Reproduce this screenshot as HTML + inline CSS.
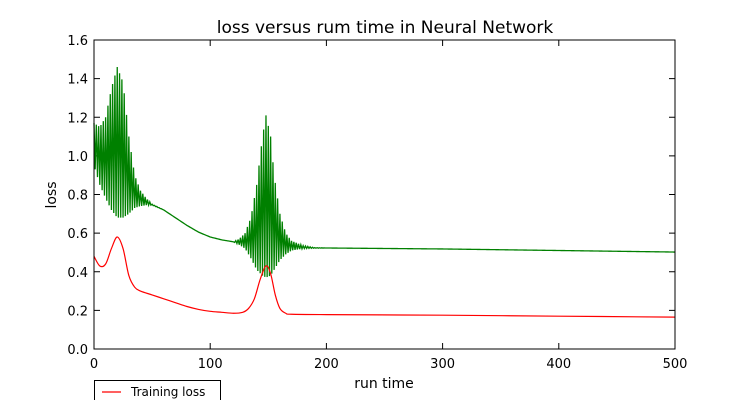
<!DOCTYPE html>
<html><head><meta charset="utf-8"><style>
body{margin:0;background:#fff;}
svg text{font-family:"DejaVu Sans","Liberation Sans",sans-serif;fill:#000;}
</style></head><body>
<svg id="chart" width="750" height="400" viewBox="0 0 750 400" xmlns="http://www.w3.org/2000/svg">
<rect width="750" height="400" fill="#fff"/>
<text x="385" y="33" font-size="17" text-anchor="middle">loss versus rum time in Neural Network</text>
<g id="ticks"></g>
<g id="series"></g>
<rect x="94" y="40" width="581" height="309" fill="none" stroke="#000" stroke-width="1"/>
<text x="384" y="388" font-size="14" text-anchor="middle">run time</text>
<text x="56" y="195" font-size="14" text-anchor="middle" transform="rotate(-90 56 195)">loss</text>
<g>
<rect x="94.5" y="380.5" width="126" height="30" fill="#fff" stroke="#000"/>
<line x1="102" y1="392" x2="121" y2="392" stroke="red" stroke-width="1.3"/>
<text x="131" y="396" font-size="12">Training loss</text>
</g>
</svg>
<script>
const xTicks=[0,100,200,300,400,500];
const yTicks=[0.0,0.2,0.4,0.6,0.8,1.0,1.2,1.4,1.6];
const greenX=[0,5,10,15,20,25,30,35,40,45,50,60,70,80,90,100,110,120,125,130,135,140,145,148,152,155,160,165,170,180,190,200,300,400,500];
const greenUpper=[1.17,1.15,1.2,1.35,1.46,1.38,1.1,0.9,0.82,0.78,0.75,0.72,0.68,0.64,0.605,0.58,0.565,0.555,0.57,0.6,0.68,0.85,1.1,1.21,1.1,0.9,0.7,0.6,0.56,0.535,0.525,0.523,0.518,0.51,0.502];
const greenLower=[0.95,0.85,0.78,0.72,0.68,0.68,0.7,0.73,0.74,0.745,0.745,0.72,0.68,0.64,0.605,0.58,0.565,0.555,0.54,0.52,0.47,0.41,0.38,0.37,0.38,0.41,0.46,0.49,0.51,0.52,0.522,0.523,0.518,0.51,0.502];
const redX=[0,5,10,15,20,25,30,35,40,50,60,70,80,90,100,110,120,128,133,138,143,148,152,156,160,165,170,200,300,400,500];
const redY=[0.48,0.43,0.44,0.52,0.58,0.52,0.38,0.32,0.3,0.28,0.26,0.24,0.22,0.205,0.195,0.19,0.185,0.19,0.21,0.26,0.36,0.43,0.39,0.28,0.21,0.185,0.18,0.178,0.175,0.17,0.165];
const sx=v=>94+v*581/500;
const sy=v=>349-v*309/1.6;
const NS="http://www.w3.org/2000/svg";
const tg=document.getElementById('ticks'), sg=document.getElementById('series');
function mk(tag,attrs,parent){const e=document.createElementNS(NS,tag);for(const k in attrs)e.setAttribute(k,attrs[k]);parent.appendChild(e);return e;}
xTicks.forEach(t=>{const x=sx(t);
 const a=mk('line',{x1:x,y1:349,x2:x,y2:343,stroke:'#000'},tg);
 
 
 mk('line',{x1:x,y1:40,x2:x,y2:46,stroke:'#000'},tg);
 const l=mk('text',{x:x,y:368,'font-size':13,'text-anchor':'middle'},tg);l.textContent=t;
 
 
});
yTicks.forEach(t=>{const y=sy(t);
 const a=mk('line',{x1:94,y1:y,x2:100,y2:y,stroke:'#000'},tg);
 
 
 mk('line',{x1:675,y1:y,x2:669,y2:y,stroke:'#000'},tg);
 const l=mk('text',{x:88,y:y+5,'font-size':13,'text-anchor':'end'},tg);l.textContent=t.toFixed(1);
 
 
});
function interp(xs,ys,x){for(let i=1;i<xs.length;i++){if(x<=xs[i]){const f=(x-xs[i-1])/(xs[i]-xs[i-1]);return ys[i-1]+f*(ys[i]-ys[i-1]);}}return ys[ys.length-1];}
function smoothPath(xs,ys){let d='M'+sx(xs[0])+','+sy(ys[0]);
 for(let i=0;i<xs.length-1;i++){
  const p0=[sx(xs[Math.max(0,i-1)]),sy(ys[Math.max(0,i-1)])],p1=[sx(xs[i]),sy(ys[i])],p2=[sx(xs[i+1]),sy(ys[i+1])],p3=[sx(xs[Math.min(xs.length-1,i+2)]),sy(ys[Math.min(xs.length-1,i+2)])];
  const c1=[p1[0]+(p2[0]-p0[0])/6,p1[1]+(p2[1]-p0[1])/6],c2=[p2[0]-(p3[0]-p1[0])/6,p2[1]-(p3[1]-p1[1])/6];
  d+=' C'+c1[0].toFixed(2)+','+c1[1].toFixed(2)+' '+c2[0].toFixed(2)+','+c2[1].toFixed(2)+' '+p2[0].toFixed(2)+','+p2[1].toFixed(2);}
 return d;}
let gp=[];
for(let x=0;x<=500;x+=1){const v=(x%2===0)?interp(greenX,greenUpper,x):interp(greenX,greenLower,x);gp.push(sx(x).toFixed(2)+','+sy(v).toFixed(2));}
const g=mk('polyline',{points:gp.join(' '),fill:'none',stroke:'green','stroke-width':1.3},sg);


const r=mk('path',{d:smoothPath(redX,redY),fill:'none',stroke:'red','stroke-width':1.2},sg);


</script>
</body></html>
